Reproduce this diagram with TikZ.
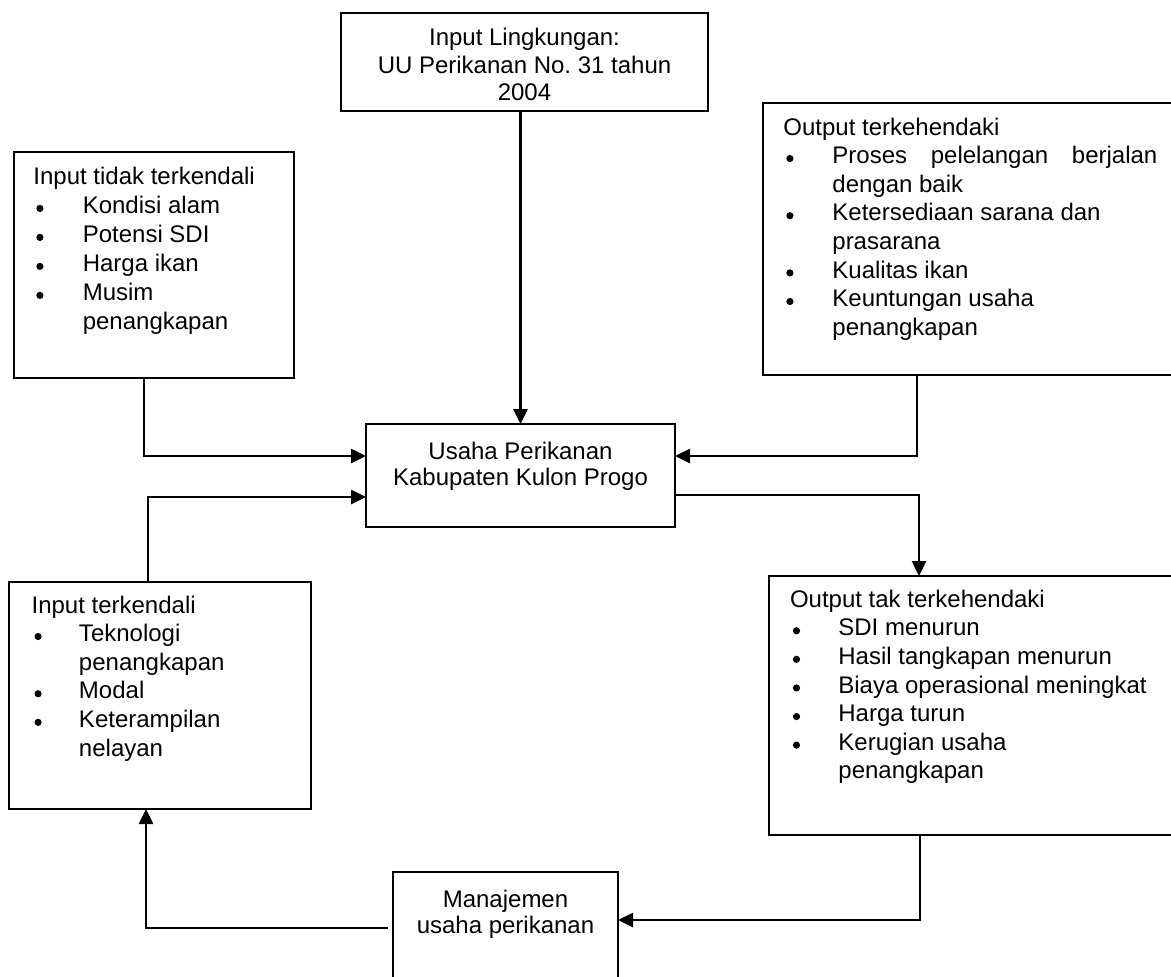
\documentclass[tikz,border=0pt]{standalone}
\usepackage{fontspec}
\setmainfont{Liberation Sans}
\usetikzlibrary{arrows.meta}
\frenchspacing
\newlength\bulind
\newcommand\bul{\makebox[\bulind][l]{\hspace{1.45pt}\raisebox{0.75pt}{\tikz\fill (0,0) circle (1.8pt);}}}
\newcommand\ind{\hspace*{\bulind}}
% #1 width, #2 height, #3 baselineskip, #4 top space, #5 content
\newcommand\boxin[5]{\parbox[c][#2][t]{#1}{\fontsize{12pt}{#3}\selectfont\frenchspacing\vspace*{#4}#5}}
\tikzset{
  box/.style={draw, line width=1pt, inner sep=0pt, outer sep=0pt, anchor=north west, rectangle},
  arr/.style={line width=1.3pt, -{Triangle[length=7.5pt,width=7pt]}},
}
\begin{document}
\begin{tikzpicture}[x=0.5pt,y=-0.5pt]
\useasboundingbox (0,0) rectangle (1171,976);
\fill[white] (0,0) rectangle (1171,976);

\node[box] (lenv) at (341,13) {\boxin{183.5pt}{49pt}{13.65pt}{6.8pt}{\centering\strut Input Lingkungan:\\UU Perikanan No. 31 tahun\\2004}};

\node[box] (unc) at (14,152) {\boxin{140pt}{113pt}{14.5pt}{6.1pt}{\leftskip=9.7pt\relax\setlength\bulind{24.7pt}\strut Input tidak terkendali\\
\bul Kondisi alam\\
\bul Potensi SDI\\
\bul Harga ikan\\
\bul Musim\\
\ind penangkapan}};

\node[box] (des) at (763,103) {\boxin{208.5pt}{136pt}{14.3pt}{6pt}{\leftskip=10.2pt\relax\setlength\bulind{24.5pt}\strut Output terkehendaki\\
\bul\makebox[162.5pt][s]{Proses pelelangan berjalan}\\
\ind dengan baik\\
\bul Ketersediaan sarana dan\\
\ind prasarana\\
\bul Kualitas ikan\\
\bul Keuntungan usaha\\
\ind penangkapan}};

\node[box] (core) at (366,424) {\boxin{154.5pt}{51.5pt}{13pt}{8.4pt}{\centering\strut Usaha Perikanan\\Kabupaten Kulon Progo}};

\node[box] (con) at (9,582) {\boxin{151pt}{113.5pt}{14.3pt}{5.5pt}{\leftskip=11.3pt\relax\setlength\bulind{23.7pt}\strut Input terkendali\\
\bul Teknologi\\
\ind penangkapan\\
\bul Modal\\
\bul Keterampilan\\
\ind nelayan}};

\node[box] (und) at (769,576) {\boxin{205.5pt}{129.5pt}{14.3pt}{5.6pt}{\leftskip=10.5pt\relax\setlength\bulind{24.2pt}\strut Output tak terkehendaki\\
\bul SDI menurun\\
\bul Hasil tangkapan menurun\\
\bul Biaya operasional meningkat\\
\bul Harga turun\\
\bul Kerugian usaha\\
\ind penangkapan}};

\node[box] (man) at (393,872) {\boxin{112.5pt}{56.5pt}{13.3pt}{8.3pt}{\centering\strut Manajemen\\usaha perikanan}};

\draw[arr] (core.north |- lenv.south) -- (core.north);
\draw[arr] ([xshift=-5pt]unc.south) |- ([yshift=9.75pt]core.west);
\draw[arr] ([xshift=77pt]des.south west) |- ([yshift=9.75pt]core.east);
\draw[arr] ([yshift=-9.75pt]core.east) -| ([xshift=75pt]und.north west);
\draw[arr] ([xshift=69.5pt]con.north west) |- ([yshift=-10.75pt]core.west);
\draw[arr] ([xshift=75.5pt]und.south west) |- ([yshift=-24pt]man.north east);
\draw[arr] ([xshift=-2.5pt,yshift=-28pt]man.north west) -| ([xshift=68.5pt]con.south west);
\end{tikzpicture}
\end{document}
